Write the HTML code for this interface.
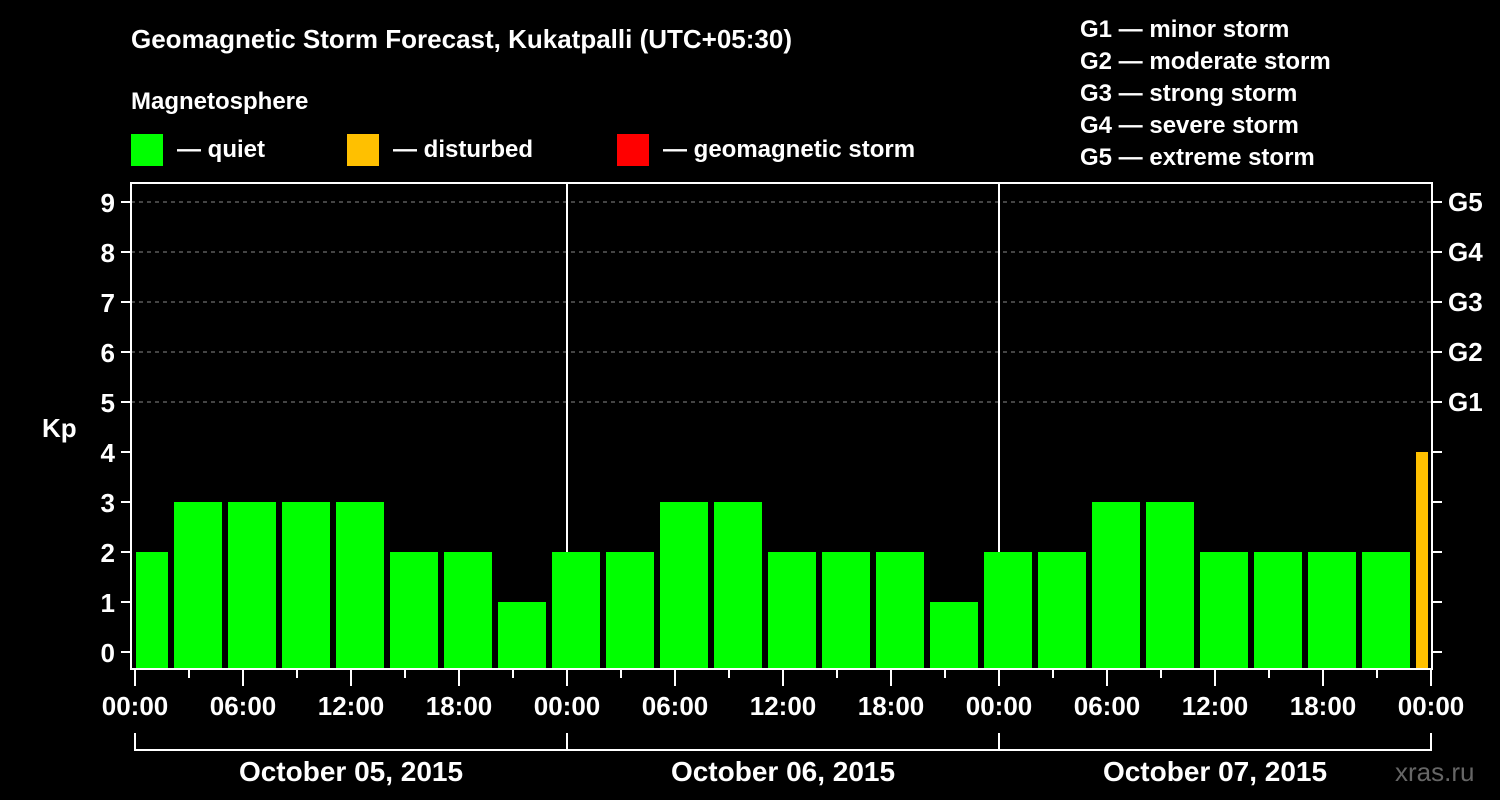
<!DOCTYPE html>
<html><head><meta charset="utf-8"><style>
body{margin:0;background:#000;}
svg{display:block;font-family:"Liberation Sans",Arial,sans-serif;font-weight:bold;}
</style></head><body>
<svg id="chart" width="1500" height="800" viewBox="0 0 1500 800">
<rect width="1500" height="800" fill="#000"/>
<text x="131" y="48" fill="#fff" font-size="26">Geomagnetic Storm Forecast, Kukatpalli (UTC+05:30)</text>
<text x="131" y="109" fill="#fff" font-size="24">Magnetosphere</text>
<g><rect x="131" y="134" width="32" height="32" fill="#00ff00"/><text x="177" y="157" fill="#fff" font-size="24">— quiet</text></g>
<g><rect x="347" y="134" width="32" height="32" fill="#ffc000"/><text x="393" y="157" fill="#fff" font-size="24">— disturbed</text></g>
<g><rect x="617" y="134" width="32" height="32" fill="#ff0000"/><text x="663" y="157" fill="#fff" font-size="24">— geomagnetic storm</text></g>
<g fill="#fff" font-size="24">
<text x="1080" y="37">G1 — minor storm</text>
<text x="1080" y="69">G2 — moderate storm</text>
<text x="1080" y="101">G3 — strong storm</text>
<text x="1080" y="133">G4 — severe storm</text>
<text x="1080" y="165">G5 — extreme storm</text>
</g>
<text x="42" y="437" fill="#fff" font-size="26">Kp</text>
<g id="grid"></g><g id="bars"></g><g id="axes"></g>
<text x="1395" y="781" fill="#666" font-size="26" font-weight="normal">xras.ru</text>
</svg>
<script>
const kpValues=[2,3,3,3,3,2,2,1,2,2,3,3,2,2,2,1,2,2,3,3,2,2,2,2,4];
const yTicks=[0,1,2,3,4,5,6,7,8,9];
const gLabels=["G1","G2","G3","G4","G5"];
const gLevels=[5,6,7,8,9];
const dayLabels=["October 05, 2015","October 06, 2015","October 07, 2015"];
const hourLabels=["00:00","06:00","12:00","18:00"];
const NS="http://www.w3.org/2000/svg";
const X0=135,PH=18,Y0=652,PU=50,L=131,R=1432,T=183,B=669;
const x=h=>X0+h*PH, y=v=>Y0-v*PU;
function mk(p,tag,a){const e=document.createElementNS(NS,tag);for(const k in a)e.setAttribute(k,a[k]);p.appendChild(e);return e;}
const grid=document.getElementById('grid'),bars=document.getElementById('bars'),axes=document.getElementById('axes');
gLevels.forEach((v,i)=>{
 const l=mk(grid,'line',{x1:L,x2:R,y1:y(v),y2:y(v),stroke:'#888','stroke-dasharray':'4,4','stroke-width':1});
 
 
 const t=mk(axes,'text',{x:1448,y:y(v)+9,fill:'#fff','font-size':26});t.textContent=gLabels[i];
 
 
});
mk(grid,'line',{x1:x(24),x2:x(24),y1:T,y2:B,stroke:'#fff','stroke-width':2});
mk(grid,'line',{x1:x(48),x2:x(48),y1:T,y2:B,stroke:'#fff','stroke-width':2});
kpValues.forEach((v,k)=>{
 const c=x(0.5+3*k);let x1=Math.max(c-24,L+5),x2=Math.min(c+24,R-4);
 const col=v>=5?'#ff0000':(v>=4?'#ffc000':'#00ff00');
 const r=mk(bars,'rect',{x:x1,y:y(v),width:x2-x1,height:B-1-y(v),fill:col});
 
 
});
const f=mk(axes,'rect',{x:L,y:T,width:R-L,height:B-T,fill:'none',stroke:'#fff','stroke-width':2});


yTicks.forEach(v=>{
 mk(axes,'line',{x1:L-10,x2:L,y1:y(v),y2:y(v),stroke:'#fff','stroke-width':2});
 mk(axes,'line',{x1:R,x2:R+10,y1:y(v),y2:y(v),stroke:'#fff','stroke-width':2});
 const t=mk(axes,'text',{x:L-16,y:y(v)+10,fill:'#fff','font-size':26,'text-anchor':'end'});t.textContent=v;
 
 
});
for(let h=0;h<=72;h+=3){
 const major=h%6===0;
 mk(axes,'line',{x1:x(h),x2:x(h),y1:B,y2:B+(major?17:9),stroke:'#fff','stroke-width':2});
 if(major){const t=mk(axes,'text',{x:x(h),y:715,fill:'#fff','font-size':26,'text-anchor':'middle'});t.textContent=hourLabels[(h/6)%4];
 
 }
}
mk(axes,'line',{x1:x(0),x2:x(72),y1:750,y2:750,stroke:'#fff','stroke-width':2});
for(let d=0;d<=3;d++)mk(axes,'line',{x1:x(24*d),x2:x(24*d),y1:733,y2:751,stroke:'#fff','stroke-width':2});
dayLabels.forEach((s,d)=>{
 const t=mk(axes,'text',{x:x(24*d+12),y:781,fill:'#fff','font-size':28,'text-anchor':'middle'});t.textContent=s;
 
 
});
</script>
</body></html>
